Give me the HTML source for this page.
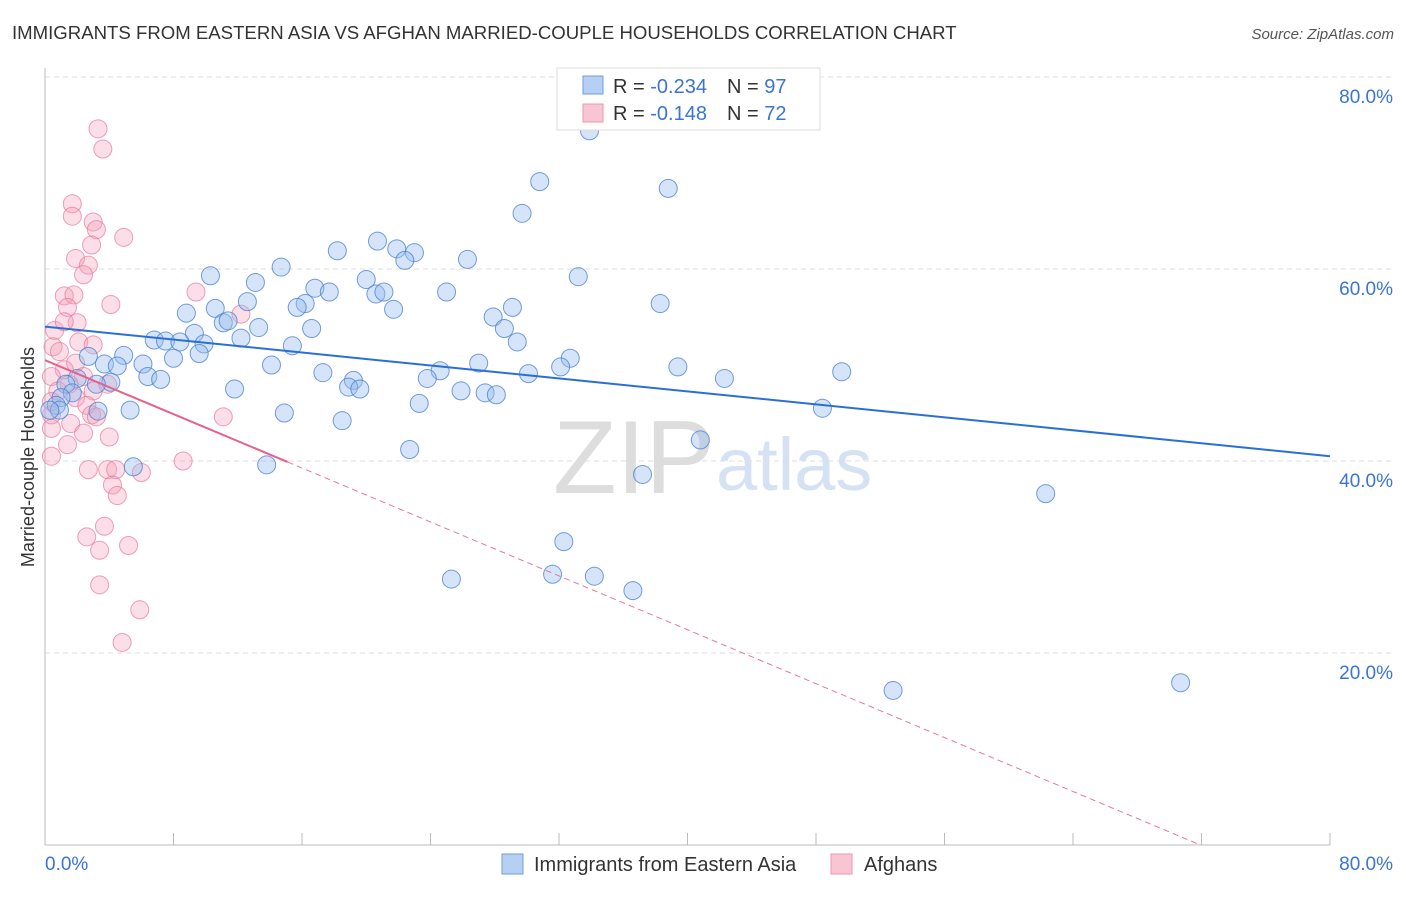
<!DOCTYPE html>
<html><head><meta charset="utf-8"><style>
body{margin:0;background:#fff;font-family:"Liberation Sans",sans-serif;}
svg text{font-family:"Liberation Sans",sans-serif;}
</style></head><body>
<svg id="chart" width="1406" height="892" xmlns="http://www.w3.org/2000/svg">
<text x="12" y="39" font-size="18.6" fill="#333">IMMIGRANTS FROM EASTERN ASIA VS AFGHAN MARRIED-COUPLE HOUSEHOLDS CORRELATION CHART</text>
<text x="1394" y="39" font-size="15" fill="#555" text-anchor="end" font-style="italic">Source: ZipAtlas.com</text>
<text x="553" y="493" font-size="104" fill="#ddd" font-family="Liberation Serif">ZIP</text>
<text x="716" y="490" font-size="74" fill="#d5e2f3">atlas</text>
<text transform="translate(34,457) rotate(-90)" font-size="18" fill="#333" text-anchor="middle">Married-couple Households</text>
<g id="grid"></g><g id="pts"></g><g id="lines"></g>
<g>
<rect x="557" y="68" width="263" height="62" fill="#fff" stroke="#ddd"/>
<rect x="583" y="76" width="20" height="18" fill="#b6d0f3" stroke="#6f9ddc"/>
<rect x="583" y="104" width="20" height="18" fill="#f9c4d3" stroke="#eb97b0"/>
<text x="613" y="93" font-size="20" fill="#333">R = <tspan fill="#3a74d4">-0.234</tspan><tspan dx="20">N = </tspan><tspan fill="#3a74d4">97</tspan></text>
<text x="613" y="120" font-size="20" fill="#333">R =  <tspan fill="#3a74d4">-0.148</tspan><tspan dx="20">N = </tspan><tspan fill="#3a74d4">72</tspan></text>
</g>
<g>
<rect x="502" y="854" width="21" height="20" fill="#b6d0f3" stroke="#6f9ddc"/>
<text x="534" y="871" font-size="20" fill="#333">Immigrants from Eastern Asia</text>
<rect x="831" y="854" width="21" height="20" fill="#f9c4d3" stroke="#eb97b0"/>
<text x="864" y="871" font-size="20" fill="#333">Afghans</text>
</g>
</svg>
<script>
const yTicks=[20,40,60,80];
const xTickLabels=["0.0%","80.0%"];
const blueX=[33.9,37.8,30.8,38.8,29.7,20.7,18.2,21.9,23.0,22.4,26.3,14.7,10.3,33.2,13.1,20.0,16.8,17.7,20.6,21.1,25.0,12.6,16.2,15.7,10.6,21.7,29.1,38.3,8.8,27.9,11.1,11.4,13.3,16.6,28.6,9.3,12.2,6.8,7.5,8.4,9.9,15.4,29.4,4.9,9.6,2.7,32.7,27.0,32.1,3.7,4.5,6.1,8.0,14.1,39.4,49.6,17.3,24.6,23.8,30.1,42.3,6.4,7.2,19.2,4.1,2.0,3.2,1.3,11.8,18.9,19.6,25.9,27.4,28.1,1.7,1.0,23.3,0.7,0.9,0.3,5.3,3.3,14.9,48.4,18.5,40.8,22.7,5.5,13.8,37.2,62.3,32.3,25.3,31.6,34.2,36.6,52.8,70.7];
const blueY=[74.4,79.4,69.1,68.4,65.8,62.9,61.9,62.1,61.7,60.9,61.0,60.2,59.3,59.2,58.6,58.9,58.0,57.6,57.4,57.6,57.6,56.6,56.4,56.0,55.9,55.8,56.0,56.4,55.4,55.0,54.4,54.6,53.9,53.8,53.8,53.3,52.8,52.6,52.5,52.4,52.2,52.0,52.4,51.0,51.2,50.9,50.7,50.2,49.8,50.1,49.9,50.1,50.7,50.0,49.8,49.3,49.2,49.4,48.6,49.1,48.6,48.8,48.5,48.4,48.2,48.6,48.0,48.0,47.5,47.7,47.5,47.3,47.1,46.9,47.1,46.6,46.0,45.8,45.3,45.3,45.3,45.2,45.0,45.5,44.2,42.2,41.2,39.4,39.6,38.6,36.6,31.6,27.7,28.2,28.0,26.5,16.1,16.9];
const pinkX=[3.3,3.6,1.7,1.7,3.0,3.2,4.9,2.9,1.9,2.7,2.4,9.4,1.2,1.8,1.4,4.1,12.2,0.6,2.0,1.2,2.1,3.0,0.5,0.9,1.9,1.2,0.4,2.4,1.5,3.0,3.9,0.8,1.9,0.4,2.6,2.9,3.2,0.4,1.6,2.4,0.4,1.4,4.0,11.1,0.4,2.7,3.9,4.4,6.0,8.6,4.2,4.5,3.7,2.6,3.4,5.2,3.4,5.9,4.8];
const pinkY=[74.6,72.5,66.8,65.5,64.9,64.1,63.3,62.5,61.1,60.4,59.4,57.6,57.2,57.3,56.0,56.3,55.3,53.6,54.4,54.5,52.4,52.1,51.9,51.4,50.2,49.5,48.8,48.8,48.0,47.3,48.0,47.3,46.6,46.2,45.8,44.8,44.6,44.8,43.9,42.9,43.4,41.7,42.5,44.6,40.5,39.1,39.1,39.1,38.8,40.0,37.5,36.4,33.2,32.1,30.7,31.2,27.1,24.5,21.1];
const blueTrend=[54.0,40.5];
const pinkTrend=[50.5,39.9,15.1];
const X=v=>45+v*1285/80, Y=v=>845-v*9.6;
const NS="http://www.w3.org/2000/svg";
function mk(tag,at,parent){const e=document.createElementNS(NS,tag);for(const k in at)e.setAttribute(k,at[k]);parent.appendChild(e);return e;}
const grid=document.getElementById('grid');
const ax=mk('line',{x1:45,y1:68,x2:45,y2:845,stroke:'#bbb'},grid);


const bx=mk('line',{x1:45,y1:845,x2:1330,y2:845,stroke:'#bbb'},grid);


yTicks.forEach(t=>{
 const g=mk('line',{x1:45,y1:Y(t),x2:1394,y2:Y(t),stroke:'#ddd','stroke-dasharray':'5,4'},grid);
 
 
 const l=mk('text',{x:1393,y:Y(t)+26,'font-size':19,fill:'#3a74d4','text-anchor':'end'},grid);l.textContent=t.toFixed(1)+'%';
 
 
});
for(let i=0;i<=10;i++){const v=i*8;const t=mk('line',{x1:X(v),y1:833,x2:X(v),y2:845,stroke:'#bbb'},grid);
 
 }
const xl0=mk('text',{x:45,y:870,'font-size':19,fill:'#3a74d4'},grid);xl0.textContent=xTickLabels[0];


const xl1=mk('text',{x:1393,y:870,'font-size':19,fill:'#3a74d4','text-anchor':'end'},grid);xl1.textContent=xTickLabels[1];


const pts=document.getElementById('pts');
pinkX.forEach((x,i)=>{const c=mk('circle',{cx:X(x),cy:Y(pinkY[i]),r:9,fill:'rgba(244,160,186,0.35)',stroke:'rgba(232,120,155,0.7)','stroke-width':1},pts);
 
 });
blueX.forEach((x,i)=>{const c=mk('circle',{cx:X(x),cy:Y(blueY[i]),r:9,fill:'rgba(150,188,238,0.4)',stroke:'rgba(70,125,210,0.75)','stroke-width':1},pts);
 
 });
const lines=document.getElementById('lines');
const bl=mk('line',{x1:X(0),y1:Y(blueTrend[0]),x2:X(80),y2:Y(blueTrend[1]),stroke:'#2a6fd6','stroke-width':2},lines);


const slope=(pinkTrend[1]-pinkTrend[0])/pinkTrend[2];
const xEnd=-pinkTrend[0]/slope;
const pd=mk('line',{x1:X(pinkTrend[2]),y1:Y(pinkTrend[1]),x2:X(xEnd),y2:Y(0),stroke:'#e8789b','stroke-width':1,'stroke-dasharray':'6,4'},lines);


const pl=mk('line',{x1:X(0),y1:Y(pinkTrend[0]),x2:X(pinkTrend[2]),y2:Y(pinkTrend[1]),stroke:'#e5628c','stroke-width':2},lines);


</script>
</body></html>
